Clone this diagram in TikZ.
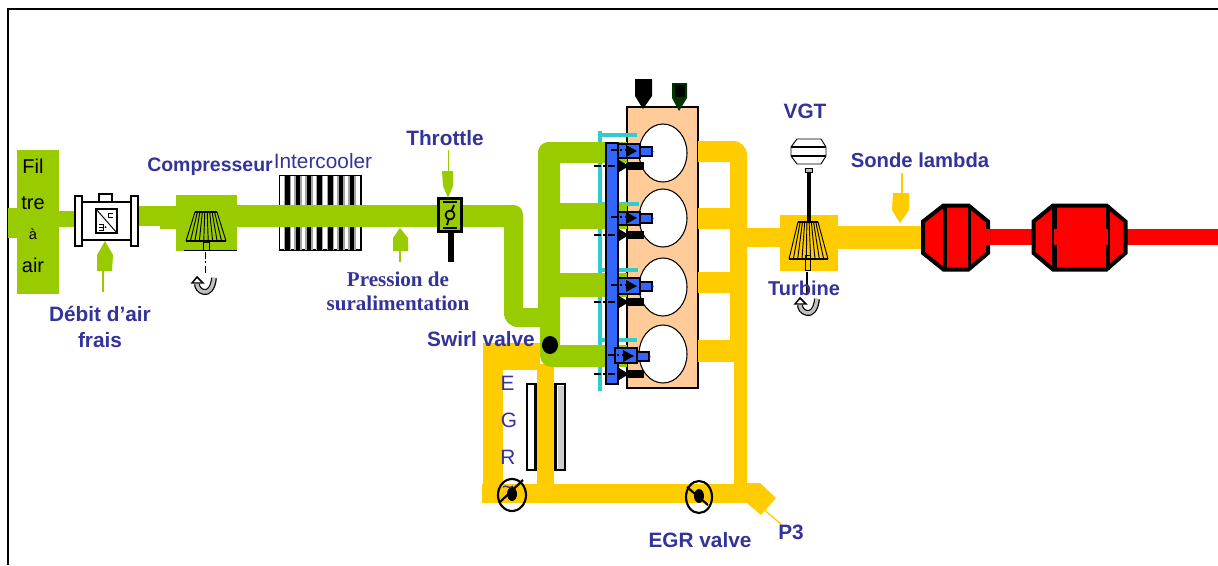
\documentclass[tikz,border=0pt]{standalone}
\usepackage{fontspec}
\setmainfont{Liberation Sans}
\newfontfamily\serifbold[Scale=1]{Liberation Serif}
\definecolor{airgreen}{HTML}{99CC00}
\definecolor{gasyellow}{HTML}{FFCC00}
\definecolor{catred}{HTML}{FF0000}
\definecolor{labelblue}{HTML}{333399}
\definecolor{railblue}{HTML}{3366FF}
\definecolor{rimcyan}{HTML}{33CCCC}
\definecolor{blockpeach}{HTML}{FFCC99}
\definecolor{darkgr}{HTML}{003300}
\tikzset{
  lab/.style={text=labelblue,font=\fontsize{15.6pt}{18pt}\selectfont\bfseries,inner sep=0pt},
  labreg/.style={text=labelblue,font=\fontsize{15.6pt}{18pt}\selectfont,inner sep=0pt},
  labser/.style={text=labelblue,font=\fontsize{15.8pt}{18pt}\serifbold\bfseries,inner sep=0pt},
  filt/.style={text=black,font=\fontsize{15pt}{18pt}\selectfont,inner sep=0pt},
  air/.style={fill=airgreen,draw=none},
  gas/.style={fill=gasyellow,draw=none},
  cat/.style={fill=catred,draw=none},
  dashdot/.style={draw=black,line width=1.9pt,dash pattern=on 5pt off 2pt on 1.5pt off 2pt},
}
\newcommand{\fanshape}[6]{% topL topR botL botR ytop ybot
  \draw[black,line width=0.8pt] (#1,#5) -- (#2,#5);
  \foreach \t in {0,1,...,9}{
    \pgfmathsetmacro{\xa}{#1+(#2-#1)*\t/9}
    \pgfmathsetmacro{\xb}{#3+(#4-#3)*\t/9}
    \draw[black,line width=0.7pt] (\xa,#5) -- (\xb,#6);
  }
  \draw[black,line width=1pt] (#3,#6) -- (#4,#6);
}
\newcommand{\rotarrow}[2]{% centre
  \begin{scope}[shift={(#1,#2)}]
    \draw[black,line width=4.4pt] (9,-7) .. controls (8,4) and (3,8) .. (-1,7) .. controls (-6,6) and (-8,2) .. (-8,-1);
    \draw[black!25,line width=2.6pt] (9,-7.5) .. controls (8,4) and (3,8) .. (-1,7) .. controls (-6,6) and (-8,2) .. (-8,-1);
    \draw[black,fill=white,line width=1.1pt] (-8,-8) -- (-13,-2) -- (-2,-2) -- cycle;
  \end{scope}
}
\newcommand{\injector}[6]{% boxL boxR boxT boxB cy lowY
  \draw[black,fill=railblue,line width=0.9pt] (#2,#5-4) rectangle (#2+12,#5+5);
  \fill[darkgr!60!blue] (#2+12,#5-2.5) -- (#2+13.5,#5+.5) -- (#2+12,#5+3.5) -- cycle;
  \draw[black,fill=railblue,line width=1pt] (#1,#3) rectangle (#2,#4);
  \draw[dashdot] (#1-7,#5-1) -- (#1+9,#5-1);
  \fill[black] (#1+8,#5-6) -- (#1+19,#5) -- (#1+8,#5+6) -- cycle;
  \draw[dashdot] (594,#6) -- (620,#6);
  \fill[black] (619,#6-6) -- (629,#6) -- (619,#6+6) -- cycle;
  \fill[black] (628,#6-4) rectangle (644,#6+4);
}
\begin{document}
\begin{tikzpicture}[x=0.75pt,y=-0.75pt]
\useasboundingbox (0,0) rectangle (1218,565);
\fill[white] (0,0) rectangle (1218,565);
% frame
\draw[black,line width=1.5pt] (8,565) -- (8,9) -- (1218,9);
% engine block
\draw[black,fill=blockpeach,line width=1pt] (627,107) rectangle (698,388);
\foreach \cy in {153,218,287,354}{
  \draw[black,fill=white,line width=0.8pt] (663,\cy) ellipse (24 and 29);
}
% top arrows
\fill[black] (635,79) -- (652,79) -- (652,96) -- (643,109) -- (635,96) -- cycle;
\fill[darkgr] (672,83) -- (687,83) -- (687,98) -- (679,111) -- (672,98) -- cycle;
\fill[black] (674.5,85) rectangle (684.5,97);
% cyan rims
\fill[rimcyan] (598,131) rectangle (602,391);
\fill[rimcyan] (598,133) rectangle (637,137);
\fill[rimcyan] (598,202) rectangle (639,206);
\fill[rimcyan] (598,268) rectangle (638,272);
\fill[rimcyan] (598,338) rectangle (637,342);
% yellow exhaust
\fill[gas] (698,141) -- (733,141) .. controls (741,141) and (747,147) .. (747,155) -- (747,345) -- (730,345) -- (730,162) -- (698,162) -- cycle;
\fill[gas] (698,208) rectangle (735,229);
\fill[gas] (698,272) rectangle (735,293);
\fill[gas] (698,340) rectangle (747,362);
\fill[gas] (734,345) rectangle (747,503);
% EGR loop
\fill[gas] (483,343) rectangle (503,503);
\fill[gas] (483,343) rectangle (540,370);
\fill[gas] (482,484) rectangle (747,503);
\fill[gas] (747,483) -- (760,483) -- (776,498) -- (761,515) -- (747,503) -- cycle;
\draw[gasyellow,line width=1pt] (761,507) -- (782,525);
% EGR cooler
\draw[black,fill=white,line width=1.3pt] (527,384) rectangle (565,470);
\fill[black] (533.5,384) rectangle (538,470);
\fill[black] (554,384) rectangle (557,470);
\fill[black!20] (558,386) rectangle (563.5,468.5);
\fill[gas] (537,364) rectangle (554,484);
% air side
\fill[air] (8,208) rectangle (17,238);
\fill[air] (17,150) rectangle (59,294);
\fill[air] (59,211) rectangle (75,227);
\fill[air] (138,206) rectangle (176,226);
\fill[air] (160,207) rectangle (176,229);
\fill[air] (176,195) rectangle (237,251);
% intercooler
\draw[black,fill=white,line width=1.3pt] (279.5,175.5) rectangle (361,250);
\foreach \i in {0,...,6}{
  \fill[black!35] (283.5+\i*10.75,176) rectangle (291+\i*10.75,250);
  \fill[black] (285+\i*10.75,176) rectangle (289.5+\i*10.75,250);
}
% air pipe: intercooler to first bend
\fill[air] (237,205) -- (513,205) .. controls (519,205) and (523,209) .. (523,215) -- (523,308) -- (545,308) -- (545,327) -- (518,327) .. controls (510,327) and (504,321) .. (504,313) -- (504,227) -- (237,227) -- cycle;
% manifold
\fill[air] (606,142) -- (550,142) .. controls (542,142) and (538,146) .. (538,154) -- (538,327) -- (540,327) -- (540,355) .. controls (540,362) and (545,367) .. (552,367) -- (606,367) -- (606,345) -- (560,345) -- (560,163) -- (606,163) -- cycle;
\fill[air] (560,142) rectangle (627,163);
\fill[air] (558,203) rectangle (627,229);
\fill[air] (558,273) rectangle (627,297);
\fill[air] (558,345) rectangle (627,367);
% MAF
\draw[black,fill=white,line width=0.9pt] (99,194) rectangle (112,202);
\draw[black,fill=white,line width=0.9pt] (82,202) rectangle (131,240);
\draw[black,fill=white,line width=0.9pt] (75,196) rectangle (82,246);
\draw[black,fill=white,line width=0.9pt] (131,196) rectangle (138,246);
\draw[black,fill=white,line width=0.9pt] (96,209) rectangle (117,233);
\draw[black,line width=0.7pt] (96,209) -- (117,233);
\draw[black,line width=0.6pt] (113,213) -- (108,213) -- (108,217) -- (113,217);
\draw[black,line width=0.6pt] (99,224) -- (103,224) -- (103,230) -- (99,230) (99,227) -- (103,227);
\fill[black] (105.5,227) circle (1);
% MAF sensor arrow
\fill[air] (97,255) -- (105,241) -- (113,255) -- (112,271) -- (97,271) -- cycle;
\draw[airgreen,line width=1.2pt] (103,271) -- (103,292);
% compressor
\fanshape{195}{217}{186}{226}{212}{241}
\draw[black,line width=0.7pt] (203,242) rectangle (209,250);
\draw[black,line width=0.9pt] (184,250.5) -- (237,250.5);
\draw[dashdot,line width=1.2pt] (205.5,252) -- (205.5,275);
\rotarrow{205}{285}
% pressure sensor
\fill[air] (393,238) -- (400,228) -- (408,238) -- (408,251) -- (393,251) -- cycle;
\draw[airgreen,line width=1.2pt] (400,251) -- (400,262);
% throttle
\fill[black] (448,232) rectangle (454,262);
\draw[black,fill=airgreen,line width=1.7pt] (438.5,198.5) rectangle (461.5,231.5);
\draw[black,line width=1pt] (443,202) -- (457,202);
\draw[black,line width=1pt] (443,228) -- (457,228);
\draw[black,line width=1.4pt] (447,225) -- (450,215) -- (454,205);
\draw[black,fill=airgreen,line width=1.3pt] (450,215) circle (4.5);
\fill[air] (442,171) -- (453,171) -- (453,186) -- (448,198) -- (443,186) -- cycle;
\draw[airgreen,line width=1.2pt] (448.5,150) -- (448.5,172);
% rail
\draw[black,fill=railblue,line width=1pt] (606,143) rectangle (618,384);
\injector{618}{640}{144}{158}{151}{166}
\injector{618}{640}{212}{225}{218}{235}
\injector{618}{640}{278}{294}{286}{302}
\injector{615}{637}{348}{363}{356}{374}
% swirl valve
\fill[black] (550,345) ellipse (8 and 9);
% EGR valves
\draw[black,line width=1.6pt] (512,495) ellipse (14 and 16);
\fill[black] (512,494) ellipse (5 and 7);
\draw[black,line width=1.6pt] (499,503) -- (523,480);
\draw[labelblue,line width=1pt] (503,487) .. controls (506,484) and (509,490) .. (513,486);
\draw[black,line width=1.6pt] (699,497) ellipse (13 and 16);
\fill[black] (699,496) ellipse (5 and 7);
\draw[black,line width=1.6pt] (687,487) -- (708,505);
% turbine
\fill[gas] (747,228) rectangle (780,247);
\fill[gas] (780,215) rectangle (838,271);
\fill[gas] (838,226) rectangle (921,249);
\fanshape{798}{818}{789}{828}{222}{259}
\draw[black,line width=2pt] (798,222) -- (818,222);
\draw[black,line width=0.5pt] (805,255) rectangle (810,270);
\draw[black,line width=0.8pt] (807,272) -- (807,295);
\rotarrow{808}{306}
% VGT
\draw[black,line width=2.4pt] (809,170) -- (809,222);
\draw[black,fill=white,line width=0.7pt] (797,139) -- (821,139) -- (826,147) -- (826,156) -- (821,164) -- (797,164) -- (791,156) -- (791,147) -- cycle;
\draw[black,line width=1pt] (791,147) -- (826,147) (791,156) -- (826,156);
\draw[black,fill=black!25,line width=0.5pt] (805.5,168) rectangle (812.5,172);
% lambda arrow
\fill[gas] (893,193) -- (909,193) -- (909,210) -- (900,223) -- (892,210) -- cycle;
\draw[gasyellow,line width=1.2pt] (902,173) -- (902,193);
% catalysts
\fill[cat] (988,229) rectangle (1032,245);
\fill[cat] (1125,229) rectangle (1218,245);
\draw[black,fill=catred,line width=3pt,line join=miter] (923,221.5) -- (943.5,205.5) -- (968.5,205.5) -- (988,221.5) -- (988,253) -- (968.5,269.5) -- (943.5,269.5) -- (923,253) -- cycle;
\fill[black] (943,205) rectangle (947,270);
\fill[black] (967.5,205) rectangle (970.5,270);
\fill[cat] (984,229) rectangle (990,245);
\draw[black,fill=catred,line width=3pt,line join=miter] (1033.5,221.5) -- (1053,205.5) -- (1106.5,205.5) -- (1125.5,221.5) -- (1125.5,253) -- (1106.5,269.5) -- (1053,269.5) -- (1033.5,253) -- cycle;
\fill[black] (1052,205) rectangle (1057,270);
\fill[black] (1106,205) rectangle (1109.5,270);
\fill[cat] (1054,229) rectangle (1108,245);
% labels
\node[filt] (fil) at (33,166) {Fil};
\node[filt] (tre) at (33,203) {tre};
\node[filt,font=\fontsize{11pt}{13pt}\selectfont] (aa) at (33,234) {à};
\node[filt] (airl) at (33,265) {air};
\node[lab,font=\fontsize{14.6pt}{18pt}\selectfont\bfseries] (compl) at (210,167) {Compresseur};
\node[labreg] (inter) at (323,161) {Intercooler};
\node[lab] (debit) at (100,314) {Débit d’air};
\node[lab] (frais) at (100,340) {frais};
\node[labser] (pres) at (398,279) {Pression de};
\node[labser] (sura) at (398,303) {suralimentation};
\node[lab] (thr) at (445,138) {Throttle};
\node[lab] (swirl) at (481,339) {Swirl valve};
\node[labreg] (e) at (507.5,383) {E};
\node[labreg] (g) at (509,420) {G};
\node[labreg] (r) at (508,457) {R};
\node[lab] (egrv) at (700,540) {EGR valve};
\node[lab] (p3) at (791,532) {P3};
\node[lab] (vgt) at (805,111) {VGT};
\node[lab,font=\fontsize{15.2pt}{18pt}\selectfont\bfseries] (sonde) at (920,160) {Sonde lambda};
\node[lab,font=\fontsize{15pt}{18pt}\selectfont\bfseries] (turb) at (804,288) {Turbine};
\end{tikzpicture}
\end{document}
